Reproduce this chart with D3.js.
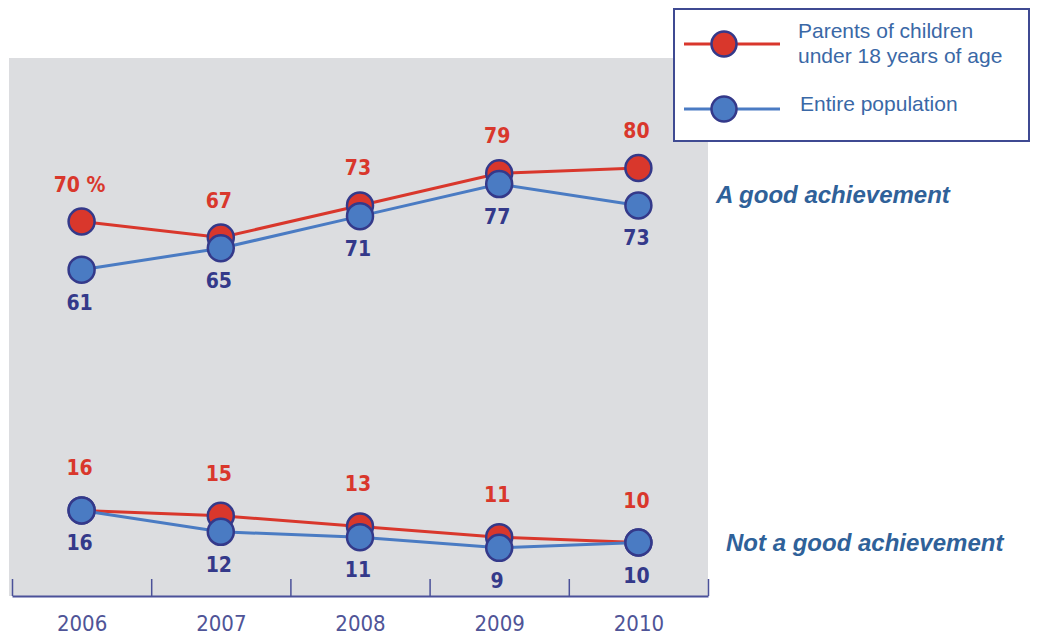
<!DOCTYPE html>
<html>
<head>
<meta charset="utf-8">
<script src="https://cdn.jsdelivr.net/npm/d3@7"></script>
<style>
  body { margin: 0; background: #fff; }
  svg { display: block; }
</style>
</head>
<body>
<div id="chart"></div>
<script>
// data
const years = [2006, 2007, 2008, 2009, 2010];
const parentsGood = [70, 67, 73, 79, 80];
const allGood = [61, 65, 71, 77, 73];
const parentsNotGood = [16, 15, 13, 11, 10];
const allNotGood = [16, 12, 11, 9, 10];
const seriesNames = ['Parents of children\nunder 18 years of age', 'Entire population'];
const groupNames = ['A good achievement', 'Not a good achievement'];

const width = 1038;
const height = 637;

const RED = '#d9372c';
const BLUE = '#4a7bc3';
const NAVY = '#34398a';
const TEXT_BLUE = '#2f6199';

const svg = d3.select('#chart').append('svg')
  .attr('width', width)
  .attr('height', height);

const plot = { left: 12, right: 708, top: 61, bottom: 596 };

const x = d3.scaleLinear()
  .domain([years[0] - 0.5, years[years.length - 1] + 0.5])
  .range([plot.left, plot.right]);

const y = d3.scaleLinear()
  .domain([0, 100])
  .range([plot.bottom, plot.top]);

// grey panel
svg.append('rect')
  .attr('x', 9)
  .attr('y', 58)
  .attr('width', plot.right - 9)
  .attr('height', plot.bottom - 58)
  .attr('fill', '#dcdde0');

// axis with ticks between the years
const edges = d3.range(years.length + 1).map((i) => years[0] - 0.5 + i);
const axis = svg.append('g')
  .attr('transform', `translate(0, ${plot.bottom})`)
  .call(d3.axisBottom(x).tickValues(edges).tickSize(-17).tickSizeOuter(0).tickFormat(''));
axis.select('.domain').attr('stroke', '#4b5199').attr('stroke-width', 2);
axis.selectAll('.tick line').attr('stroke', '#4b5199').attr('stroke-width', 1.5);

const yearAxis = svg.append('g')
  .attr('transform', `translate(0, ${plot.bottom})`)
  .call(d3.axisBottom(x).tickValues(years).tickSize(0).tickPadding(19).tickFormat(d3.format('d')));
yearAxis.select('.domain').remove();
yearAxis.selectAll('text')
  .attr('font-family', 'DejaVu Sans Condensed')
  .attr('font-size', 22)
  .attr('fill', '#4f5497');

const line = d3.line()
  .x((d, i) => x(years[i]))
  .y((d) => y(d));

function addSeries(values, color, labelDy, labelColor, first) {
  svg.append('path')
    .datum(values)
    .attr('fill', 'none')
    .attr('stroke', color)
    .attr('stroke-width', 3)
    .attr('d', line);

  svg.append('g').selectAll('circle')
    .data(values)
    .enter().append('circle')
    .attr('cx', (d, i) => x(years[i]))
    .attr('cy', (d) => y(d))
    .attr('r', 13)
    .attr('fill', color)
    .attr('stroke', NAVY)
    .attr('stroke-width', 2.5);

  svg.append('g').selectAll('text')
    .data(values)
    .enter().append('text')
    .attr('x', (d, i) => x(years[i]) - 2)
    .attr('y', (d) => y(d) + labelDy)
    .attr('text-anchor', 'middle')
    .attr('dominant-baseline', 'central')
    .attr('font-family', 'DejaVu Sans Condensed')
    .attr('font-weight', 'bold')
    .attr('font-size', 21)
    .attr('fill', labelColor)
    .text((d, i) => (first && i === 0 ? `${d} %` : d));
}

addSeries(parentsGood, RED, -37, RED, true);
addSeries(allGood, BLUE, 33, NAVY, false);
addSeries(parentsNotGood, RED, -42, RED, false);
addSeries(allNotGood, BLUE, 33, NAVY, false);

// group captions on the right
[[groupNames[0], 716, 75], [groupNames[1], 726, 10]].forEach(([label, lx, v]) => {
  svg.append('text')
    .attr('x', lx)
    .attr('y', y(v))
    .attr('dominant-baseline', 'central')
    .attr('font-family', 'Liberation Sans')
    .attr('font-style', 'italic')
    .attr('font-weight', 'bold')
    .attr('font-size', 24)
    .attr('fill', TEXT_BLUE)
    .text(label);
});

// legend
const legend = svg.append('g');
legend.append('rect')
  .attr('x', 674)
  .attr('y', 9)
  .attr('width', 355)
  .attr('height', 132)
  .attr('fill', '#fff')
  .attr('stroke', '#3f4a92')
  .attr('stroke-width', 2);

[[RED, 44], [BLUE, 109]].forEach(([color, ly], i) => {
  legend.append('line')
    .attr('x1', 684).attr('x2', 780)
    .attr('y1', ly).attr('y2', ly)
    .attr('stroke', color)
    .attr('stroke-width', 3);
  legend.append('circle')
    .attr('cx', 724).attr('cy', ly)
    .attr('r', 12.5)
    .attr('fill', color)
    .attr('stroke', NAVY)
    .attr('stroke-width', 2.5);
  const lines = seriesNames[i].split('\n');
  const t = legend.append('text')
    .attr('font-family', 'Liberation Sans')
    .attr('font-size', 21)
    .attr('fill', '#3a68a6');
  lines.forEach((s, j) => {
    t.append('tspan')
      .attr('x', i === 0 ? 798 : 800)
      .attr('y', (i === 0 ? 38 : 111) + j * 25)
      .text(s);
  });
});
</script>
</body>
</html>
